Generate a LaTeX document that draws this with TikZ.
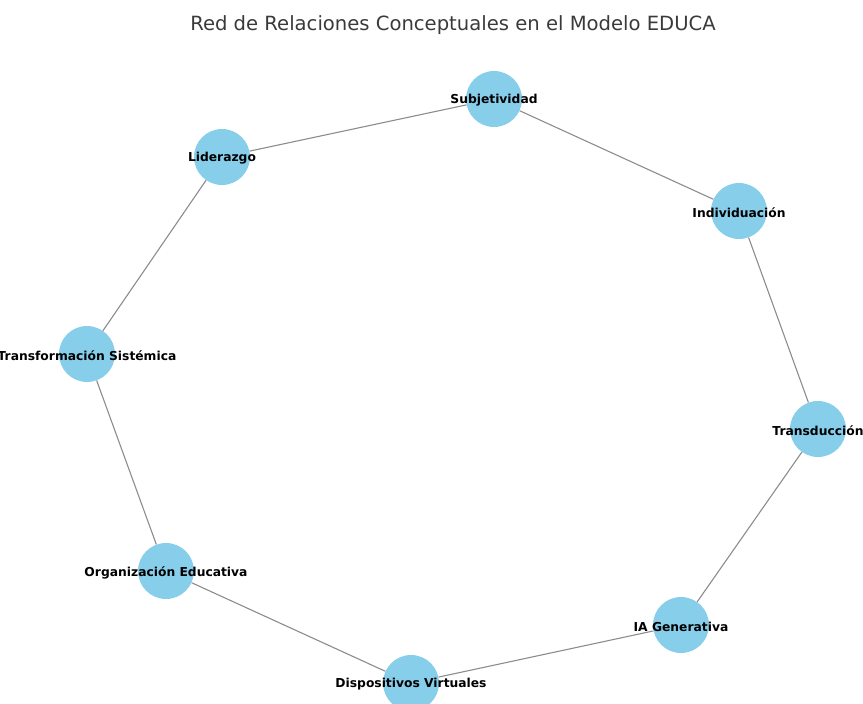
\documentclass[tikz,border=0pt]{standalone}
\usepackage{fontspec}
\setmainfont{DejaVu Sans}
\definecolor{skyblue}{HTML}{87CEEB}
\definecolor{edgegray}{HTML}{8C8C8C}
\definecolor{titlegray}{HTML}{3A3A3A}
\begin{document}
\begin{tikzpicture}[x=1pt,y=-1pt,
  concept/.style={circle,fill=skyblue,draw=none,minimum size=56pt,inner sep=0pt},
  lbl/.style={font=\fontsize{12.3}{14}\selectfont\bfseries,text=black,inner sep=0pt,yshift=-1.5pt},
  link/.style={draw=edgegray,line width=1.1pt}]
\useasboundingbox (0,0) rectangle (863,704);
\node[font=\fontsize{19.6}{23}\selectfont,text=titlegray] (title) at (453,25) {Red de Relaciones Conceptuales en el Modelo EDUCA};
\node[concept] (sub) at (494,99) {};
\node[concept] (lid) at (222,157) {};
\node[concept] (ind) at (739,211) {};
\node[concept] (tra) at (87,354) {};
\node[concept] (trd) at (818,429) {};
\node[concept] (org) at (166,571) {};
\node[concept] (iag) at (681,625) {};
\node[concept] (dis) at (411,683) {};
\draw[link] (sub) -- (lid);
\draw[link] (sub) -- (ind);
\draw[link] (ind) -- (trd);
\draw[link] (trd) -- (iag);
\draw[link] (iag) -- (dis);
\draw[link] (dis) -- (org);
\draw[link] (org) -- (tra);
\draw[link] (tra) -- (lid);
\node[lbl] (sub-t) at (sub) {Subjetividad};
\node[lbl] (lid-t) at (lid) {Liderazgo};
\node[lbl] (ind-t) at (ind) {Individuación};
\node[lbl] (tra-t) at (tra) {Transformación Sistémica};
\node[lbl] (trd-t) at (trd) {Transducción};
\node[lbl] (org-t) at (org) {Organización Educativa};
\node[lbl] (iag-t) at (iag) {IA Generativa};
\node[lbl] (dis-t) at (dis) {Dispositivos Virtuales};
\end{tikzpicture}
\end{document}
